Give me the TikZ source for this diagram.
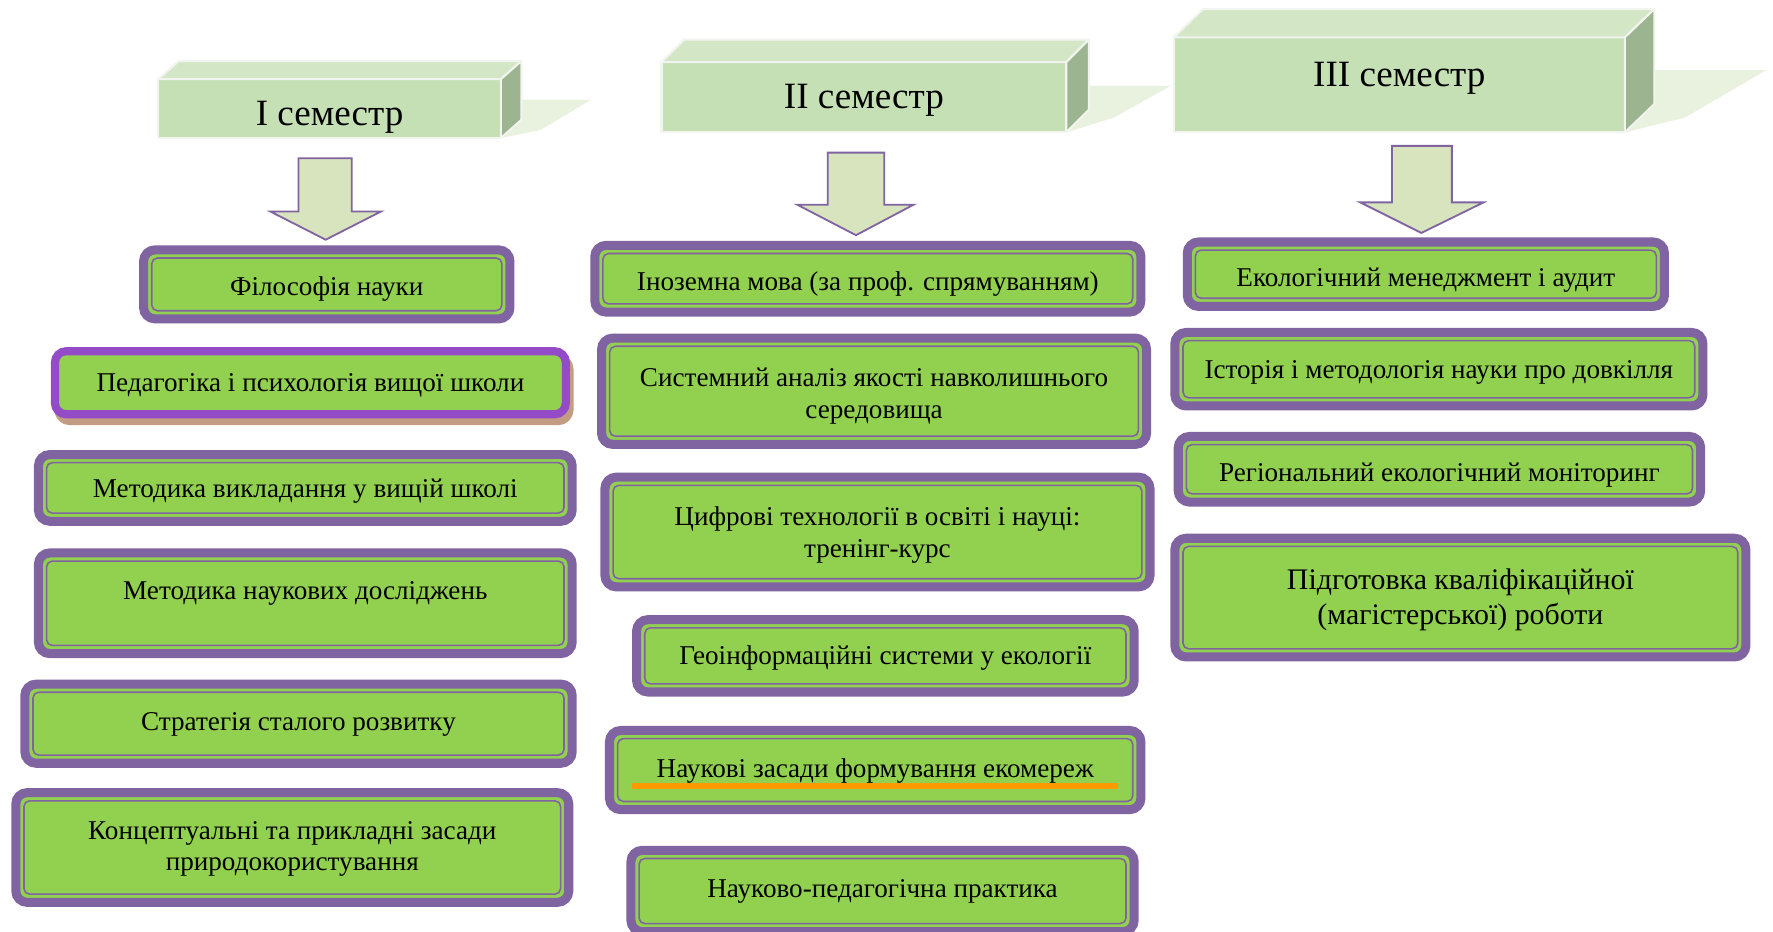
\documentclass[tikz,border=0pt]{standalone}
\usepackage{fontspec}
\setmainfont{Liberation Serif}
\usetikzlibrary{calc}
\definecolor{bandpurple}{HTML}{8064A2}
\definecolor{boxgreen}{HTML}{92D050}
\definecolor{pedpurple}{HTML}{934BC8}
\definecolor{pedshadow}{HTML}{C39C84}
\definecolor{hfrontc}{HTML}{C5E0B4}
\definecolor{htopc}{HTML}{D3E6C6}
\definecolor{hsidec}{HTML}{9DB491}
\definecolor{hshadowc}{HTML}{E9F1DF}
\definecolor{hedgec}{HTML}{F2F5EF}
\definecolor{arrowfill}{HTML}{D7E4BD}
\definecolor{ulorange}{HTML}{FF9900}
\tikzset{
  course/.style={rectangle, rounded corners=5pt, draw=bandpurple, line width=4pt,
    fill=boxgreen, outer sep=0pt, inner sep=1pt, align=center,
    font=\fontsize{12}{14}\selectfont},
  innerline/.style={draw=bandpurple, line width=0.7pt, rounded corners=2.5pt},
  pedbox/.style={rectangle, rounded corners=5pt, draw=pedpurple, line width=3.6pt,
    fill=boxgreen, outer sep=0pt, inner sep=1pt, align=center,
    font=\fontsize{12}{14}\selectfont,
    preaction={draw=pedshadow, fill=pedshadow, transform canvas={xshift=1.6pt,yshift=-3pt}}},
  hfront/.style={rectangle, fill=hfrontc, draw=hedgec, line width=0.9pt,
    outer sep=0pt, inner sep=0pt, font=\fontsize{16.4}{20}\selectfont},
  hface/.style={draw=hedgec, line width=0.9pt, line join=round},
  hshadow/.style={fill=hshadowc},
  blockarrow/.style={fill=arrowfill, draw=bandpurple, line width=0.8pt, line join=miter},
}
% lifted text block (lift in pt, positive = up)
\newcommand\liftedtext[2]{\raisebox{#1}[\height][\depth]{\begin{tabular}{@{}c@{}}#2\end{tabular}}}
% [style] name, x1, y1, x2, y2, lift, text  (coordinates in reference pixels, y downwards)
\newcommand\crsbox[8][]{%
  \node[course,#1, minimum width={(#5-#3)*0.5pt-4pt}, minimum height={(#6-#4)*0.5pt-4pt}]
    (#2) at ({(#3+#5)/2},{(#4+#6)/2}) {\liftedtext{#7}{#8}};
  \draw[innerline] ([shift={(3.6pt,3.6pt)}]#2.south west) rectangle ([shift={(-3.6pt,-3.6pt)}]#2.north east);
}
% name, x1, y1, x2, y2, dx, dy, text
\newcommand\hdrbox[8]{%
  \node[hfront, minimum width={(#4-#2)*0.5pt}, minimum height={(#5-#3)*0.5pt}]
    (#1) at ({(#2+#4)/2},{(#3+#5)/2}) {#8};
  \draw[hface, fill=htopc] (#1.north west) -- ++(#6,#7) -- ($(#1.north east)+(#6,#7)$) -- (#1.north east) -- cycle;
  \draw[hface, fill=hsidec] (#1.north east) -- ++(#6,#7) -- ($(#1.south east)+(#6,#7)$) -- (#1.south east) -- cycle;
}
\begin{document}
\begin{tikzpicture}[x=0.5pt, y=-0.5pt]
\fill[white] (0,0) rectangle (1568,824);
\useasboundingbox (0,0) rectangle (1568,824);
\clip (0,0) rectangle (1568,824);

% header shadows
\fill[hshadow] (443,122) -- (478,115) -- (523,88) -- (460,88) -- cycle;
\fill[hshadow] (943,117) -- (985,104) -- (1035,76) -- (963,76) -- cycle;
\fill[hshadow] (1437,117) -- (1490,104) -- (1562,62) -- (1463,62) -- cycle;

% headers
\hdrbox{h1}{140}{70}{443}{122}{18}{-16}{\raisebox{-4pt}[\height][\depth]{I семестр}}
\hdrbox{h2}{585}{55}{943}{117}{20}{-20}{\raisebox{-1.5pt}[\height][\depth]{II семестр}}
\hdrbox{h3}{1038}{33}{1437}{117}{26}{-25}{\raisebox{3pt}[\height][\depth]{III семестр}}

% block arrows
\draw[blockarrow] (264,140) -- (311,140) -- (311,187) -- (337,187) -- (288,212) -- (239,187) -- (264,187) -- cycle;
\draw[blockarrow] (732,135) -- (782,135) -- (782,181) -- (808,181) -- (757,208) -- (705,181) -- (732,181) -- cycle;
\draw[blockarrow] (1231,129) -- (1284,129) -- (1284,179) -- (1312,179) -- (1257,206) -- (1203,179) -- (1231,179) -- cycle;

% column I
\crsbox{c1a}{123}{217}{455}{286}{-2pt}{Філософія науки}
\node[pedbox, minimum width={(504-45)*0.5pt-3.6pt}, minimum height={(370-307)*0.5pt-3.6pt}]
  (c1b) at ({(45+504)/2},{(307+370)/2}) {\liftedtext{-1pt}{Педагогіка і психологія вищої школи}};
\crsbox{c1c}{30}{398}{510}{465}{-1.5pt}{Методика викладання у вищій школі}
\crsbox{c1d}{30}{485}{510}{582}{4.25pt}{Методика наукових досліджень}
\crsbox{c1e}{18}{601}{510}{679}{0pt}{Стратегія сталого розвитку}
\crsbox{c1f}{10}{697}{507}{802}{-0.5pt}{Концептуальні та прикладні засади\\природокористування}

% column II
\crsbox{c2a}{522}{213}{1013}{280}{-2.5pt}{Іноземна мова (за проф. спрямуванням)}
\crsbox{c2b}{528}{295}{1018}{397}{-2.25pt}{Системний аналіз якості навколишнього\\середовища}
\crsbox{c2c}{531}{418}{1021}{523}{-1.5pt}{Цифрові технології в освіті і науці:\\тренінг-курс}
\crsbox{c2d}{559}{544}{1007}{616}{-1pt}{Геоінформаційні системи у екології}
\crsbox{c2e}{535}{642}{1013}{720}{-0.5pt}{Наукові засади формування екомереж}
\draw[ulorange, line width=2.6pt] ([xshift=10pt]c2e.west |- 0,695) -- ([xshift=-10pt]c2e.east |- 0,695);
\crsbox{c2f}{554}{748}{1007}{828}{0pt}{Науково-педагогічна практика}

% column III
\crsbox{c3a}{1046}{210}{1476}{275}{-2.5pt}{Екологічний менеджмент і аудит}
\crsbox{c3b}{1035}{290}{1510}{363}{-1.5pt}{Історія і методологія науки про довкілля}
\crsbox{c3c}{1038}{382}{1508}{448}{-2.5pt}{Регіональний екологічний моніторинг}
\crsbox[font=\fontsize{13.2}{15.5}\selectfont]{c3d}{1035}{472}{1548}{585}{-1.25pt}{Підготовка кваліфікаційної\\(магістерської) роботи}
\end{tikzpicture}
\end{document}
